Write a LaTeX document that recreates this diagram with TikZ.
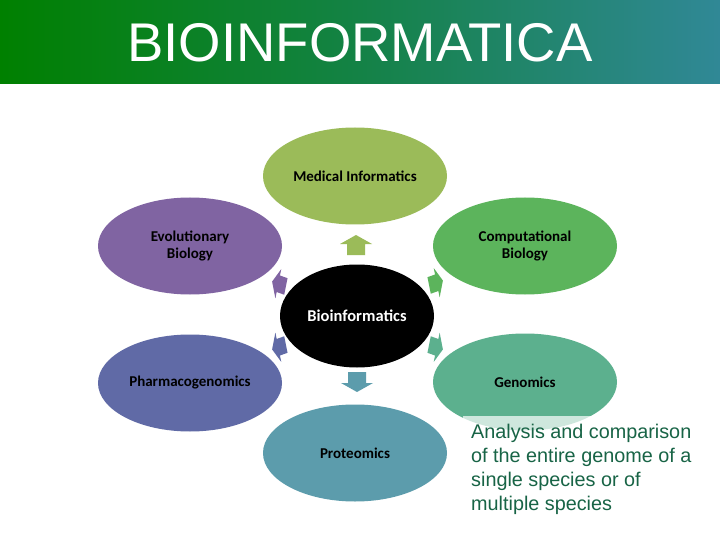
\documentclass[tikz,border=0pt]{standalone}
\usepackage{fontspec}
\setmainfont{Liberation Sans}
\newfontfamily\calib{Carlito}
\usetikzlibrary{shapes.geometric}
\definecolor{cMed}{RGB}{155,187,89}
\definecolor{cComp}{RGB}{92,180,92}
\definecolor{cGen}{RGB}{92,176,142}
\definecolor{cProt}{RGB}{92,156,172}
\definecolor{cPharm}{RGB}{96,106,166}
\definecolor{cEvo}{RGB}{128,100,162}
\definecolor{cText}{RGB}{24,100,70}
\definecolor{hdrL}{RGB}{0,128,0}
\definecolor{hdrR}{RGB}{48,136,150}
\tikzset{
  outer/.style={ellipse, minimum width=184pt, minimum height=97pt, inner sep=0pt, align=center,
     font=\calib\bfseries\fontsize{15}{16.5}\selectfont, text=black}
}
\newcommand\blockarrow[1]{\fill[#1] (-10,-9) -- (1,-9) -- (1,-16) -- (10,0) -- (1,16) -- (1,9) -- (-10,9) -- cycle;}
\begin{document}
\begin{tikzpicture}[x=1pt,y=-1pt]
\useasboundingbox (0,0) rectangle (720,540);
\fill[white] (0,0) rectangle (720,540);
% header
\shade[left color=hdrL, right color=hdrR, middle color={rgb,255:red,20;green,130;blue,70}] (0,0) rectangle (720,84);
\node[text=white, font=\fontsize{54.5}{60}\selectfont, inner sep=0pt] (title) at (360,43) {BIOINFORMATICA};
% ellipses
\node[outer, fill=cMed] (med) at (355,176) {Medical Informatics};
\node[outer, fill=cComp] (comp) at (525,246) {Computational\\Biology};
\node[outer, fill=cGen] (gen) at (525,382) {Genomics};
\node[outer, fill=cProt] (prot) at (355,453) {Proteomics};
\node[outer, fill=cPharm] (pharm) at (190,383) {Pharmacogenomics};
\node[outer, fill=cEvo] (evo) at (190,246) {Evolutionary\\Biology};
\node[ellipse, fill=black, minimum width=154pt, minimum height=103pt, inner sep=0pt,
      text=white, font=\calib\bfseries\fontsize{16.5}{18}\selectfont] (bio) at (357,316) {Bioinformatics};
% arrows
\begin{scope}[shift={(356,245)}, rotate=90] \blockarrow{cMed} \end{scope}
\begin{scope}[shift={(357,382)}, rotate=-90] \blockarrow{cProt} \end{scope}
\begin{scope}[shift={(436,283)}, xscale=0.75, scale=0.95, rotate=15] \blockarrow{cComp} \end{scope}
\begin{scope}[shift={(436,347)}, xscale=0.75, scale=0.95, rotate=-15] \blockarrow{cGen} \end{scope}
\begin{scope}[shift={(279,284)}, xscale=0.75, scale=0.95, rotate=165] \blockarrow{cEvo} \end{scope}
\begin{scope}[shift={(279,347)}, xscale=0.75, scale=0.95, rotate=-165] \blockarrow{cPharm} \end{scope}
% text box
\fill[white, opacity=0.7] (463,416) rectangle (700,520);
\node[anchor=north west, align=left, inner sep=0pt, text=cText, font=\fontsize{19.8}{24}\selectfont] (desc) at (471,424)
  {Analysis and comparison\\of the entire genome of a\\single species or of\\multiple species};
\end{tikzpicture}
\end{document}
